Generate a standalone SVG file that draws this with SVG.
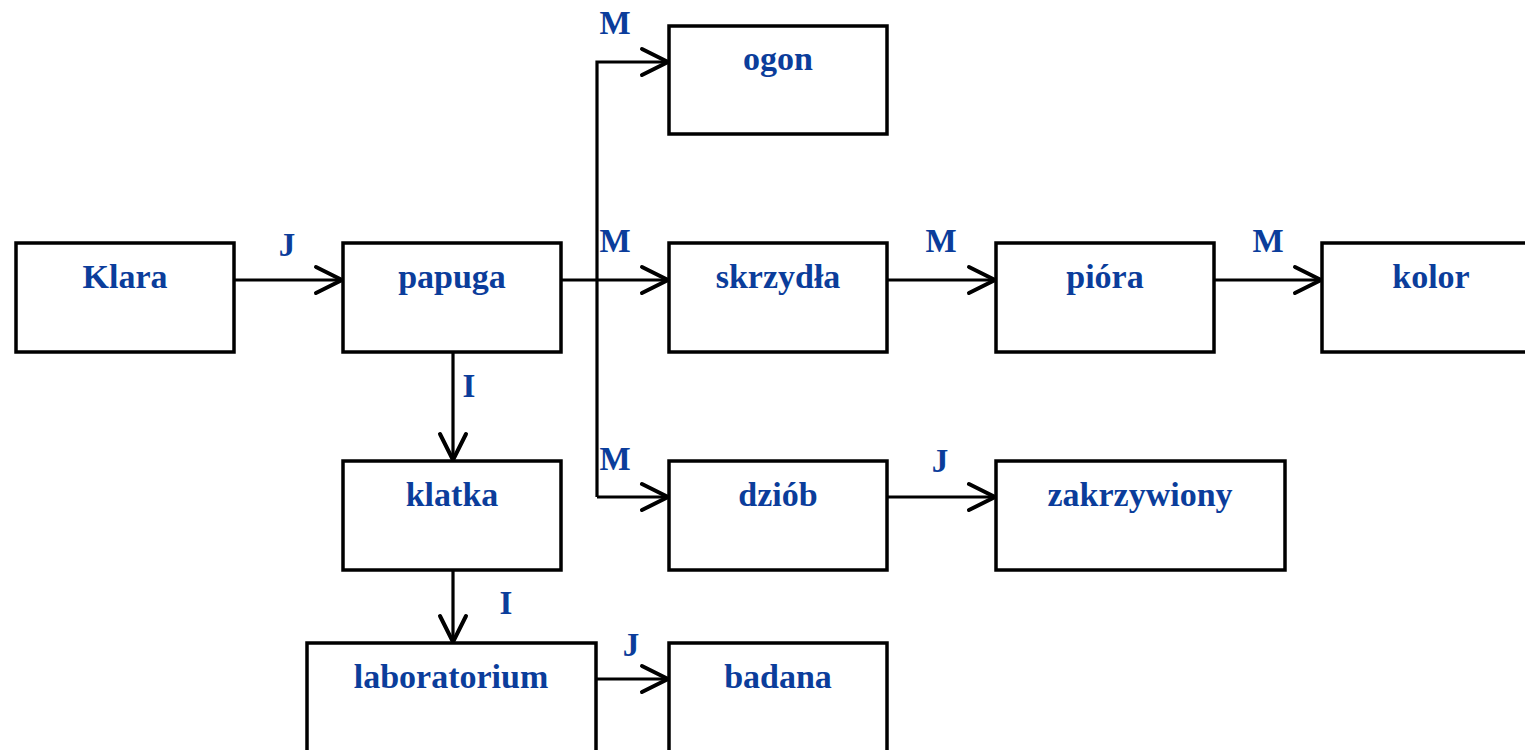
<svg xmlns="http://www.w3.org/2000/svg" width="1525" height="750" viewBox="0 0 1525 750">
  <style>
    .box { fill: #ffffff; stroke: #000000; stroke-width: 3.5; }
    .name { font-family: "Liberation Serif", "DejaVu Serif", serif; font-weight: bold; font-size: 34px; fill: #0b3d9b; text-anchor: middle; }
    .lbl { font-family: "Liberation Serif", "DejaVu Serif", serif; font-weight: bold; font-size: 33px; fill: #0b3d9b; text-anchor: middle; }
    .wire { fill: none; stroke: #000000; stroke-width: 3.2; }
  </style>
  <defs>
    <marker id="open" markerUnits="userSpaceOnUse" markerWidth="40" markerHeight="40" viewBox="-30 -20 40 40" refX="0" refY="0" orient="auto">
      <path d="M-26,-13 L0,0 L-26,13" fill="none" stroke="#000000" stroke-width="4" stroke-linecap="round" stroke-linejoin="miter"/>
    </marker>
  </defs>

  <rect width="1525" height="750" fill="#ffffff"/>

  <!-- connectors -->
  <g id="connectors">
    <path class="wire" d="M234,280 H342" marker-end="url(#open)"/>
    <path class="wire" d="M561,280 H668" marker-end="url(#open)"/>
    <path class="wire" d="M597,497 V62 H668" marker-end="url(#open)"/>
    <path class="wire" d="M597,497 H668" marker-end="url(#open)"/>
    <path class="wire" d="M887,280 H995" marker-end="url(#open)"/>
    <path class="wire" d="M1214,280 H1321" marker-end="url(#open)"/>
    <path class="wire" d="M887,497 H995" marker-end="url(#open)"/>
    <path class="wire" d="M453,352 V460" marker-end="url(#open)"/>
    <path class="wire" d="M453,570 V642" marker-end="url(#open)"/>
    <path class="wire" d="M596,679 H668" marker-end="url(#open)"/>

    <text class="lbl" x="287" y="256">J</text>
    <text class="lbl" x="615" y="34">M</text>
    <text class="lbl" x="615" y="252">M</text>
    <text class="lbl" x="941" y="252">M</text>
    <text class="lbl" x="1268" y="252">M</text>
    <text class="lbl" x="615" y="470">M</text>
    <text class="lbl" x="940" y="472">J</text>
    <text class="lbl" x="469" y="397">I</text>
    <text class="lbl" x="506" y="614">I</text>
    <text class="lbl" x="631" y="656">J</text>
  </g>

  <!-- nodes -->
  <g id="klara">
    <rect class="box" x="16" y="243" width="218" height="109"/>
    <text class="name" x="125" y="288">Klara</text>
  </g>
  <g id="papuga">
    <rect class="box" x="343" y="243" width="218" height="109"/>
    <text class="name" x="452" y="288">papuga</text>
  </g>
  <g id="ogon">
    <rect class="box" x="669" y="26" width="218" height="108"/>
    <text class="name" x="778" y="70">ogon</text>
  </g>
  <g id="skrzydla">
    <rect class="box" x="669" y="243" width="218" height="109"/>
    <text class="name" x="778" y="288">skrzydła</text>
  </g>
  <g id="piora">
    <rect class="box" x="996" y="243" width="218" height="109"/>
    <text class="name" x="1105" y="288">pióra</text>
  </g>
  <g id="kolor">
    <rect class="box" x="1322" y="243" width="218" height="109"/>
    <text class="name" x="1431" y="288">kolor</text>
  </g>
  <g id="klatka">
    <rect class="box" x="343" y="461" width="218" height="109"/>
    <text class="name" x="452" y="506">klatka</text>
  </g>
  <g id="dziob">
    <rect class="box" x="669" y="461" width="218" height="109"/>
    <text class="name" x="778" y="506">dziób</text>
  </g>
  <g id="zakrzywiony">
    <rect class="box" x="996" y="461" width="289" height="109"/>
    <text class="name" x="1140" y="506">zakrzywiony</text>
  </g>
  <g id="laboratorium">
    <rect class="box" x="307" y="643" width="289" height="109"/>
    <text class="name" x="451" y="688">laboratorium</text>
  </g>
  <g id="badana">
    <rect class="box" x="669" y="643" width="218" height="109"/>
    <text class="name" x="778" y="688">badana</text>
  </g>
</svg>
